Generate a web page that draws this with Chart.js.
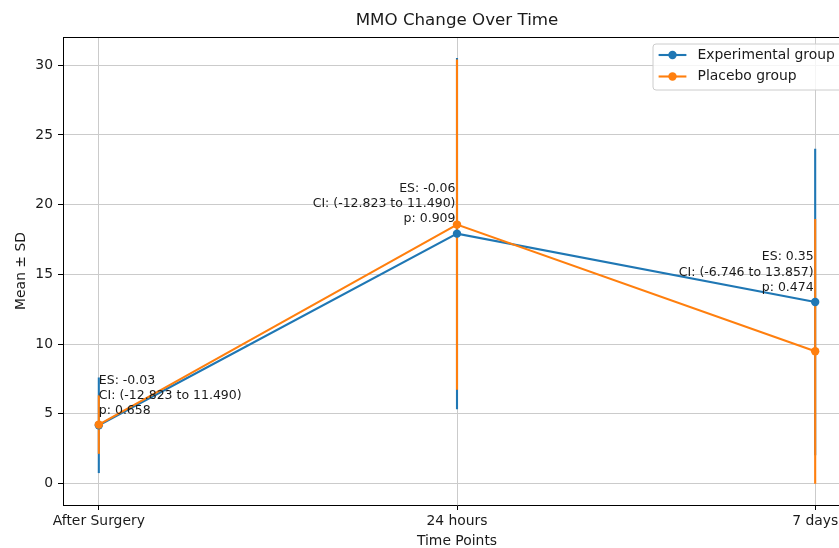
<!DOCTYPE html>
<html><head><meta charset="utf-8">
<script src="https://cdn.jsdelivr.net/npm/chart.js@4/dist/chart.umd.min.js"></script>
<style>
html,body{margin:0;padding:0;overflow:hidden;background:#fff;width:839px;height:548px}
#wrap{position:relative;width:880px;height:548px}
canvas{display:block}
</style></head>
<body><div id="wrap"><canvas id="c" width="880" height="548" style="width:880px;height:548px"></canvas></div>
<script>
// ---- data ----
const categories = ['After Surgery', '24 hours', '7 days'];
const expMean = [4.17, 17.92, 13.02];
const expSD   = [3.43, 12.60, 11.00];
const plaMean = [4.22, 18.57, 9.48];
const plaSD   = [2.10, 11.85, 9.50];
const yTicks  = [0, 5, 10, 15, 20, 25, 30];
const xTicks  = [0, 1, 2];
const annotES = ['ES: -0.03', 'ES: -0.06', 'ES: 0.35'];
const annotCI = ['CI: (-12.823 to 11.490)', 'CI: (-12.823 to 11.490)', 'CI: (-6.746 to 13.857)'];
const annotP  = ['p: 0.658', 'p: 0.909', 'p: 0.474'];
const annotY  = [4.67, 18.42, 13.52];
const annotAlign = ['left', 'right', 'right'];
const seriesNames = ['Experimental group', 'Placebo group'];

const BLUE = '#1f77b4', ORANGE = '#ff7f0e';
const FONT = "'DejaVu Sans', sans-serif";
const TXT = '#1a1a1a';

function pts(arr){ return arr.map((v,i)=>({x:i, y:v})); }

const overlay = {
  id: 'overlay',
  beforeDatasetsDraw(chart){
    const {ctx, scales:{x, y}} = chart;
    ctx.save();
    ctx.lineWidth = 2.1;
    [[expMean, expSD, BLUE], [plaMean, plaSD, ORANGE]].forEach(([m, s, c]) => {
      ctx.strokeStyle = c;
      m.forEach((v, i) => {
        const px = x.getPixelForValue(i);
        ctx.beginPath();
        ctx.moveTo(px, y.getPixelForValue(v - s[i]));
        ctx.lineTo(px, y.getPixelForValue(v + s[i]));
        ctx.stroke();
      });
    });
    ctx.restore();
  },
  afterDraw(chart){
    const {ctx, chartArea:a, scales:{x, y}} = chart;
    ctx.save();
    // top & right spines
    ctx.strokeStyle = '#000'; ctx.lineWidth = 1;
    ctx.beginPath();
    ctx.moveTo(a.left, a.top + 0.5); ctx.lineTo(a.right, a.top + 0.5);
    ctx.moveTo(a.right - 0.5, a.top); ctx.lineTo(a.right - 0.5, a.bottom);
    ctx.stroke();
    const cx = (a.left + a.right) / 2;
    // title
    ctx.fillStyle = TXT;
    ctx.textAlign = 'center'; ctx.textBaseline = 'middle';
    ctx.font = '16.7px ' + FONT;
    ctx.fillText('MMO Change Over Time', cx, 21);
    // axis titles
    ctx.font = '13.9px ' + FONT;
    ctx.fillText('Time Points', cx, 541);
    ctx.save();
    ctx.translate(21, (a.top + a.bottom) / 2);
    ctx.rotate(-Math.PI / 2);
    ctx.fillText('Mean \u00b1 SD', 0, 0);
    ctx.restore();
    // annotations
    ctx.font = '12.5px ' + FONT;
    ctx.textBaseline = 'middle';
    categories.forEach((c, i) => {
      const px = x.getPixelForValue(i) + (annotAlign[i] === 'right' ? -1.5 : 0);
      const bottom = y.getPixelForValue(annotY[i]);
      ctx.textAlign = annotAlign[i];
      const lines = [annotES[i], annotCI[i], annotP[i]];
      lines.forEach((t, k) => {
        ctx.fillText(t, px, bottom - 7.5 - (2 - k) * 15.2);
      });
    });
    // legend
    const lx = 653, ly = 44, lw = 191, lh = 46, r = 3;
    ctx.beginPath();
    ctx.moveTo(lx + r, ly);
    ctx.lineTo(lx + lw - r, ly); ctx.quadraticCurveTo(lx + lw, ly, lx + lw, ly + r);
    ctx.lineTo(lx + lw, ly + lh - r); ctx.quadraticCurveTo(lx + lw, ly + lh, lx + lw - r, ly + lh);
    ctx.lineTo(lx + r, ly + lh); ctx.quadraticCurveTo(lx, ly + lh, lx, ly + lh - r);
    ctx.lineTo(lx, ly + r); ctx.quadraticCurveTo(lx, ly, lx + r, ly);
    ctx.closePath();
    ctx.fillStyle = 'rgba(255,255,255,0.8)'; ctx.fill();
    ctx.strokeStyle = '#cccccc'; ctx.lineWidth = 1; ctx.stroke();
    const rows = [[seriesNames[0], BLUE, 55], [seriesNames[1], ORANGE, 76.5]];
    ctx.font = '13.9px ' + FONT;
    ctx.textAlign = 'left'; ctx.textBaseline = 'middle';
    rows.forEach(([name, col, ry]) => {
      ctx.strokeStyle = col; ctx.lineWidth = 2.1;
      ctx.beginPath(); ctx.moveTo(658.6, ry); ctx.lineTo(686.4, ry); ctx.stroke();
      ctx.fillStyle = col;
      ctx.beginPath(); ctx.arc(672.5, ry, 4.2, 0, Math.PI * 2); ctx.fill();
      ctx.fillStyle = TXT;
      ctx.fillText(name, 697.5, ry);
    });
    ctx.restore();
  }
};

new Chart(document.getElementById('c'), {
  type: 'line',
  data: {
    datasets: [
      { label: seriesNames[0], data: pts(expMean), borderColor: BLUE, backgroundColor: BLUE,
        borderWidth: 2.1, pointRadius: 4.2, pointBorderWidth: 0, pointBackgroundColor: BLUE,
        tension: 0, order: 2, clip: false },
      { label: seriesNames[1], data: pts(plaMean), borderColor: ORANGE, backgroundColor: ORANGE,
        borderWidth: 2.1, pointRadius: 4.2, pointBorderWidth: 0, pointBackgroundColor: ORANGE,
        tension: 0, order: 1, clip: false }
    ]
  },
  options: {
    responsive: false,
    animation: false,
    devicePixelRatio: 1,
    layout: { padding: { top: 37, right: 29, left: 0, bottom: 0 } },
    plugins: { legend: { display: false }, title: { display: false }, tooltip: { enabled: false } },
    scales: {
      x: {
        type: 'linear', min: -0.1, max: 2.1,
        afterBuildTicks: s => { s.ticks = xTicks.map(v => ({value: v})); },
        afterFit: s => { s.height = 43; },
        ticks: { callback: v => categories[v], color: TXT, font: { family: FONT, size: 13.9 }, padding: 3, maxRotation: 0, autoSkip: false },
        grid: { color: '#cbcbcb', lineWidth: 1, tickColor: '#000', tickLength: 5 },
        border: { color: '#000', width: 1 }
      },
      y: {
        type: 'linear', min: -1.55, max: 32.03,
        afterBuildTicks: s => { s.ticks = yTicks.map(v => ({value: v})); },
        afterFit: s => { s.width = 63; },
        ticks: { color: TXT, font: { family: FONT, size: 13.9 }, padding: 5 },
        grid: { color: '#cbcbcb', lineWidth: 1, tickColor: '#000', tickLength: 5 },
        border: { color: '#000', width: 1 }
      }
    }
  },
  plugins: [overlay]
});
</script>
</body></html>
